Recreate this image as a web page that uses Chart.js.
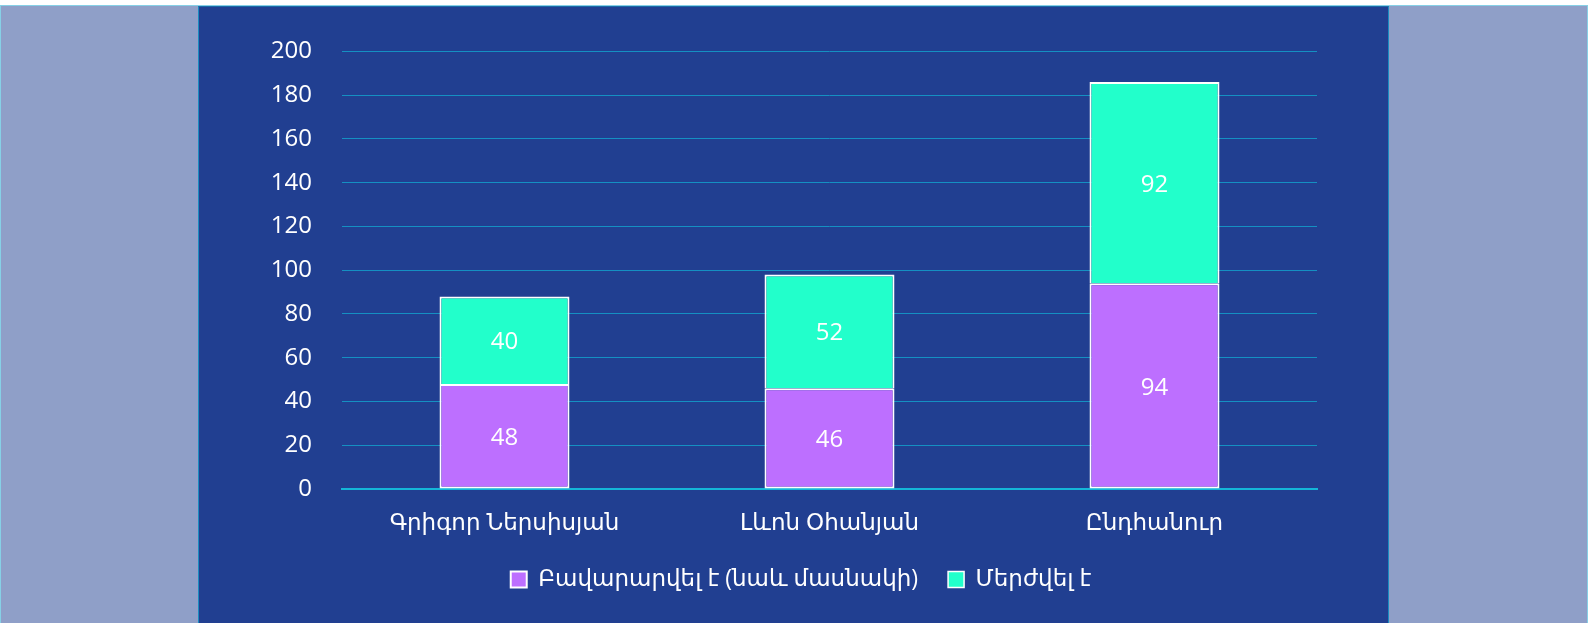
<!DOCTYPE html>
<html>
<head>
<meta charset="utf-8">
<script src="https://cdn.jsdelivr.net/npm/chart.js@4/dist/chart.umd.min.js"></script>
<style>
  html, body { margin: 0; padding: 0; background: #ffffff; }
  #outer { position: absolute; left: 0; top: 5px; width: 1588px; height: 618px; box-sizing: border-box;
           background: #8f9fc8; border: 1px solid #86d0e6; border-bottom: none; }
  #panel { position: absolute; left: 198px; top: 6px; width: 1191px; height: 617px; box-sizing: border-box;
           background: #213f91; border-left: 1px solid #1a8cc0; border-right: 1px solid #1a8cc0; border-top: 1px solid #1a6aa8; }
  canvas { display: block; }
</style>
</head>
<body>
<div id="outer"></div>
<div id="panel"><canvas id="c" width="1189" height="616"></canvas></div>
<script>
const categories = ['Գրիգոր Ներսիսյան', 'Լևոն Օհանյան', 'Ընդհանուր'];
const seriesNames = ['Բավարարվել է (նաև մասնակի)', 'Մերժվել է'];
const satisfied = [48, 46, 94];
const rejected = [40, 52, 92];
const yTicks = [0, 20, 40, 60, 80, 100, 120, 140, 160, 180, 200];

const FONT = "'Open Sans', 'Noto Sans', 'DejaVu Sans', sans-serif";

const valueLabels = {
  id: 'valueLabels',
  afterDatasetsDraw(chart) {
    const ctx = chart.ctx;
    ctx.save();
    ctx.fillStyle = '#ffffff';
    ctx.font = '24px ' + FONT;
    ctx.textAlign = 'center';
    ctx.textBaseline = 'middle';
    chart.data.datasets.forEach((ds, i) => {
      const meta = chart.getDatasetMeta(i);
      meta.data.forEach((el, j) => {
        const y = (el.y + el.base) / 2 + 2;
        ctx.fillText(String(ds.data[j]), el.x, y);
      });
    });
    ctx.restore();
  }
};

new Chart(document.getElementById('c'), {
  type: 'bar',
  data: {
    labels: categories,
    datasets: [
      { label: seriesNames[0], data: satisfied, backgroundColor: '#bd6fff', borderColor: '#ffffff', borderWidth: 2, borderSkipped: false },
      { label: seriesNames[1], data: rejected, backgroundColor: '#22ffcb', borderColor: '#ffffff', borderWidth: { top: 2, left: 2, right: 2, bottom: 0 }, borderSkipped: false }
    ]
  },
  options: {
    responsive: false,
    animation: false,
    layout: { padding: { top: 41, right: 0, bottom: 22, left: 15 } },
    datasets: { bar: { categoryPercentage: 1, barPercentage: 0.4 } },
    plugins: {
      tooltip: { enabled: false },
      legend: {
        position: 'bottom',
        labels: {
          color: '#ffffff',
          font: { family: FONT, size: 23 },
          boxWidth: 16, boxHeight: 16,
          padding: 30
        }
      }
    },
    scales: {
      x: {
        stacked: true,
        grid: { display: false, drawTicks: false },
        border: { display: true, color: '#14b6d8', width: 2 },
        ticks: { color: '#ffffff', font: { family: FONT, size: 23 }, padding: 21, maxRotation: 0 },
        afterFit(scale) { scale.height = 49; }
      },
      y: {
        stacked: true,
        min: 0, max: 200,
        afterBuildTicks(scale) { scale.ticks = yTicks.map(v => ({ value: v })); },
        grid: { color: '#1590c2', lineWidth: 1, drawTicks: false },
        border: { display: false },
        ticks: { color: '#ffffff', font: { family: FONT, size: 24 }, padding: 30 },
        afterFit(scale) { scale.width = 128; }
      },
      yRight: {
        position: 'right',
        min: 0, max: 200,
        grid: { display: false, drawTicks: false },
        border: { display: false },
        ticks: { display: false },
        afterFit(scale) { scale.width = 71; }
      }
    }
  },
  plugins: [valueLabels]
});
</script>
</body>
</html>
